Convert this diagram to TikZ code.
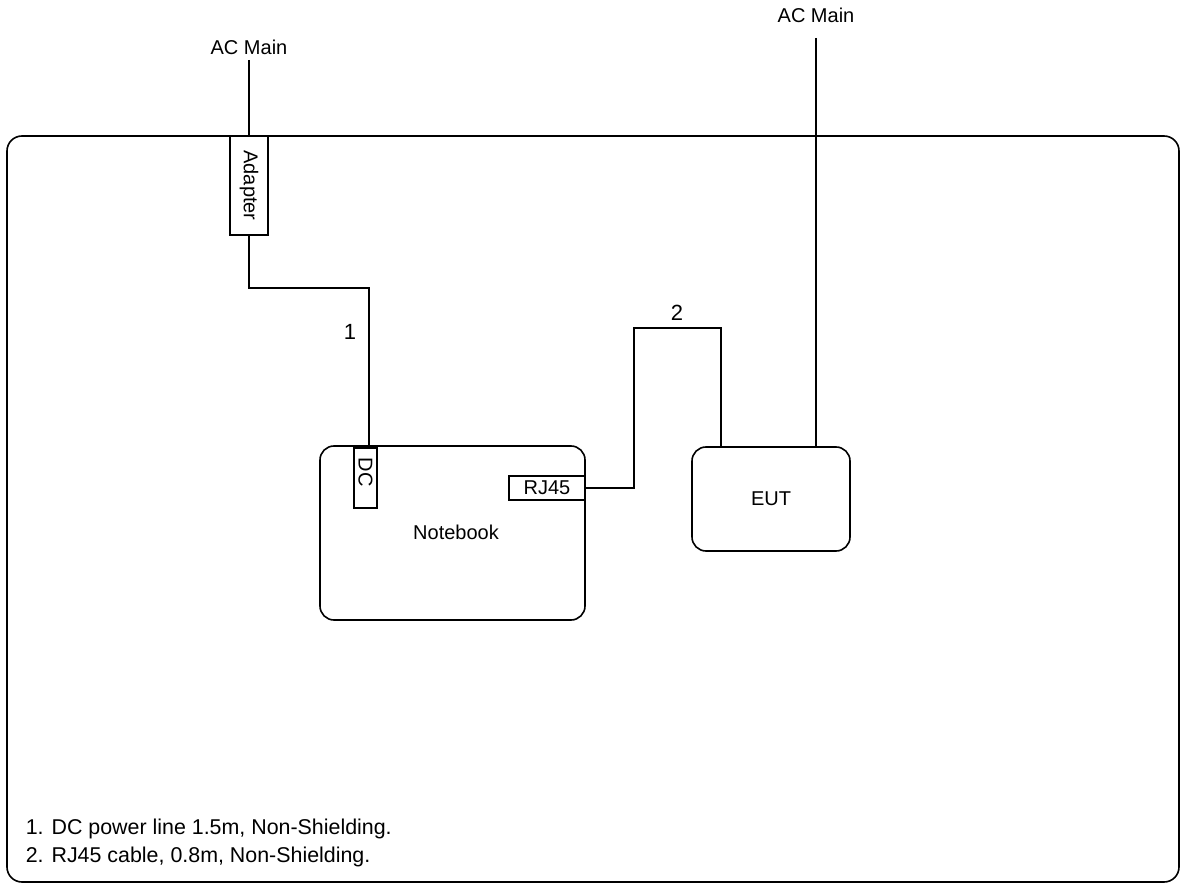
\documentclass[tikz,border=0pt]{standalone}
\usepackage{fontspec}
\setmainfont{Liberation Sans}
\begin{document}
\begin{tikzpicture}[x=1pt,y=-1pt,
  line width=1.6pt,
  dev/.style={draw,rounded corners=14pt,inner sep=0pt,fill=white,font=\fontsize{20}{24}\selectfont},
  port/.style={draw,fill=white,inner sep=0pt,font=\fontsize{20}{24}\selectfont},
  lbl/.style={inner sep=0pt,font=\fontsize{20}{24}\selectfont},
  num/.style={inner sep=0pt,font=\fontsize{22}{26}\selectfont},
  note/.style={inner sep=0pt,anchor=west,font=\fontsize{21.4}{25}\selectfont}]
\useasboundingbox (0,0) rectangle (1186,890);
% outer frame
\draw[rounded corners=15pt] (7,136) rectangle (1179,882);
% nodes
\node[port,minimum width=38pt,minimum height=99pt] (adapter) at (249,185.5) {};
\node[lbl,rotate=-90] at (adapter.center) {Adapter};
\node[dev,minimum width=265pt,minimum height=174pt] (nb) at (452.5,533) {};
\node[lbl] (nbt) at (456,532) {Notebook};
\node[port,minimum width=23pt,minimum height=60pt,anchor=north] (dc) at (365.5,447) {};
\node[lbl,rotate=-90,anchor=west] at ([yshift=-10pt]dc.north) {DC};
\node[port,minimum width=76pt,minimum height=24pt] (rj) at (547,488) {RJ45};
\node[dev,minimum width=158pt,minimum height=104pt] (eut) at (771,499) {EUT};
\node[lbl] (ac1) at (249,47) {AC Main};
\node[lbl] (ac2) at (816,15) {AC Main};
\coordinate (ac1e) at (249,60);
\coordinate (ac2e) at (816,38);
\node[num] (l1) at (350,332) {1};
\node[num] (l2) at (677,313) {2};
% connectors
\draw (ac1e) -- (adapter.north);
\draw (adapter.south) -- (249,288) -| (dc.north -| 369,0);
\draw (ac2e) -- (ac2e |- eut.north);
\draw (rj.east) -| (634,328) -| (721,447);
% notes
\node[note] (n1) at (25,829) {1. DC power line 1.5m, Non-Shielding.};
\node[note] (n2) at (25,857) {2. RJ45 cable, 0.8m, Non-Shielding.};
\end{tikzpicture}
\end{document}
